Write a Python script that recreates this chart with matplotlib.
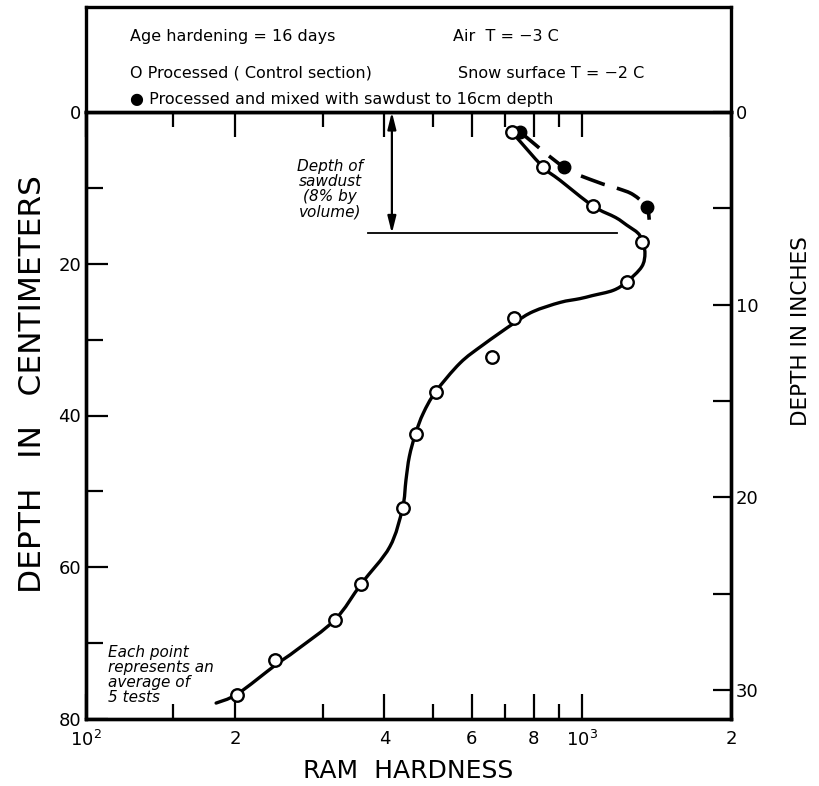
import matplotlib
matplotlib.use("Agg")
import numpy as np
import matplotlib.pyplot as plt
from matplotlib.path import Path
from matplotlib.patches import PathPatch
from matplotlib.ticker import FixedLocator, FixedFormatter, NullFormatter

# ---- data ----
# open circles: processed (control section)
ctrl_ram = [722, 834, 1054, 1325, 1232, 731, 658, 507, 462, 435, 359, 318, 241, 202]
ctrl_depth = [2.6, 7.2, 12.4, 17.1, 22.4, 27.1, 32.3, 36.9, 42.4, 52.2, 62.2, 66.9, 72.2, 76.9]

# hand-drawn curve through the control points
curve_ram = [722, 834, 904, 1054, 1170, 1232, 1300, 1325, 1341, 1321, 1232, 1158, 1050,
             991, 904, 798, 731, 632, 568, 507, 479, 462, 449, 442, 435, 410, 359, 318,
             266, 241, 202, 183]
curve_depth = [2.6, 7.2, 9.0, 12.4, 13.9, 14.9, 16.0, 17.1, 18.6, 20.4, 22.4, 23.5, 24.2,
               24.6, 25.1, 26.3, 27.8, 30.7, 33.1, 36.9, 39.7, 42.4, 45.4, 48.5, 52.2, 57.3,
               62.2, 66.9, 70.9, 72.9, 76.7, 77.9]

# filled circles: processed and mixed with sawdust
saw_ram = [750, 922, 1352]
saw_depth = [2.6, 7.3, 12.5]
saw_curve_ram = [750, 922, 1072, 1185, 1270, 1352, 1368]
saw_curve_depth = [2.6, 7.3, 9.2, 10.1, 10.9, 12.5, 14.2]

sawdust_depth = 16
x_ticks = [100, 200, 400, 600, 800, 1000, 2000]
x_labels = ["$10^2$", "2", "4", "6", "8", "$10^3$", "2"]
x_minor = [150, 300, 500, 700, 900]
cm_ticks = [0, 20, 40, 60, 80]
cm_minor = [10, 30, 50, 70]
in_ticks = [0, 10, 20, 30]
in_minor = [5, 15, 25]


def smooth_path(xs, ys):
    """Smooth (Catmull-Rom as cubic Bezier) path through the given points, log-x space."""
    u = np.log10(np.asarray(xs, float))
    v = np.asarray(ys, float)
    P = np.column_stack([u, v])
    P = np.vstack([P[0], P, P[-1]])
    verts = [P[1]]
    codes = [Path.MOVETO]
    for i in range(1, len(P) - 2):
        c1 = P[i] + (P[i + 1] - P[i - 1]) / 6.0
        c2 = P[i + 1] - (P[i + 2] - P[i]) / 6.0
        verts += [c1, c2, P[i + 1]]
        codes += [Path.CURVE4] * 3
    verts = np.array(verts)
    verts[:, 0] = 10 ** verts[:, 0]
    return Path(verts, codes)


plt.rcParams['font.family'] = ['DejaVu Sans']
W, H = 819, 786
fig = plt.figure(figsize=(W / 100, H / 100), dpi=100)
L, R, T0, Y0, B = 86, 731, 7, 112, 719
ax = fig.add_axes([L / W, 1 - B / H, (R - L) / W, (B - Y0) / H])
hdr = fig.add_axes([L / W, 1 - Y0 / H, (R - L) / W, (Y0 - T0) / H])

lw_frame = 2.4
for a in (ax, hdr):
    for s in a.spines.values():
        s.set_linewidth(lw_frame)

ax.set_xscale('log')
ax.set_xlim(100, 2000)
ax.set_ylim(80, 0)

ax.xaxis.set_major_locator(FixedLocator(x_ticks))
ax.xaxis.set_major_formatter(FixedFormatter(x_labels))
ax.xaxis.set_minor_locator(FixedLocator(x_minor))
ax.xaxis.set_minor_formatter(NullFormatter())
ax.yaxis.set_major_locator(FixedLocator(cm_ticks))
ax.yaxis.set_minor_locator(FixedLocator(cm_minor))
ax.tick_params(axis='x', which='both', direction='in', top=True, bottom=True,
               labelsize=13, pad=8, width=1.6)
ax.tick_params(axis='x', which='major', length=18)
ax.tick_params(axis='x', which='minor', length=11)
ax.tick_params(axis='y', which='both', direction='in', left=True, right=False,
               labelsize=13, width=1.6)
ax.tick_params(axis='y', which='major', length=16)
ax.tick_params(axis='y', which='minor', length=12)

ax2 = ax.twinx()
ax2.set_ylim(80 / 2.54, 0)
ax2.yaxis.set_major_locator(FixedLocator(in_ticks))
ax2.yaxis.set_minor_locator(FixedLocator(in_minor))
ax2.tick_params(axis='y', which='both', direction='in', length=13, width=1.6, labelsize=13)
for s in ax2.spines.values():
    s.set_linewidth(lw_frame)

# curves and points
ax.add_patch(PathPatch(smooth_path(curve_ram, curve_depth), fill=False, edgecolor='black',
                       lw=2.4, capstyle='round', zorder=2))
ax.add_patch(PathPatch(smooth_path(saw_curve_ram, saw_curve_depth), fill=False,
                       edgecolor='black', lw=2.6, linestyle=(0, (7, 3.5)), zorder=2))
ax.plot(saw_ram, saw_depth, 'o', color='black', ms=9, zorder=3)
ax.plot(ctrl_ram, ctrl_depth, 'o', mfc='white', mec='black', mew=1.7, ms=9, zorder=4)

# sawdust depth annotation
ax.plot([370, 1180], [sawdust_depth, sawdust_depth], color='black', lw=1.3)
ax.annotate('', xy=(414, 0), xytext=(414, sawdust_depth),
            arrowprops=dict(arrowstyle='<|-|>,head_length=1.0,head_width=0.25',
                            color='black', lw=1.6, shrinkA=0, shrinkB=0))
ax.text(311, 10.2, "Depth of\nsawdust\n(8% by\nvolume)", style='italic', fontsize=11,
        ha='center', va='center', linespacing=1.0)
ax.text(111, 74.2, "Each point\nrepresents an\naverage of\n5 tests", style='italic',
        fontsize=11, ha='left', va='center', linespacing=1.0)

ax.set_xlabel("RAM  HARDNESS", fontsize=18)
ax.xaxis.set_label_coords(0.5, -0.066)
ax.set_ylabel("DEPTH   IN   CENTIMETERS", fontsize=22.5)
ax.yaxis.set_label_coords(-0.06, 0.552)
ax2.set_ylabel("DEPTH IN INCHES", fontsize=15.5)
ax2.yaxis.set_label_coords(1.093, 0.639)

# header box
hdr.set_xticks([])
hdr.set_yticks([])
hdr.set_xlim(0, 1)
hdr.set_ylim(0, 1)
fs = 11.5
hdr.text(0.068, 0.72, "Age hardening = 16 days", fontsize=fs, va='center')
hdr.text(0.569, 0.72, "Air  T = \u22123 C", fontsize=fs, va='center')
hdr.text(0.068, 0.37, "O Processed ( Control section)", fontsize=fs, va='center')
hdr.text(0.577, 0.37, "Snow surface T = \u22122 C", fontsize=fs, va='center')
hdr.text(0.068, 0.12, "\u25CF Processed and mixed with sawdust to 16cm depth", fontsize=fs,
         va='center')

fig.savefig("out.png", dpi=100)
